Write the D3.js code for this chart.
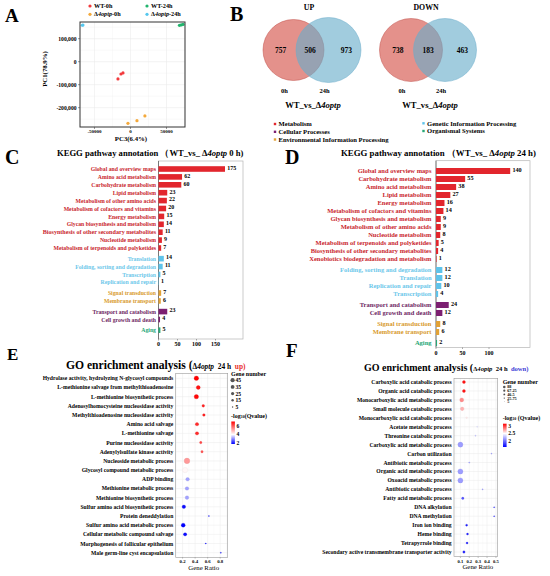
<!DOCTYPE html>
<html>
<head>
<meta charset="utf-8">
<script src="https://cdn.jsdelivr.net/npm/d3@7"></script>
<style>
body { margin: 0; background: #fff; }
svg { display: block; font-family: "Liberation Serif", "Times New Roman", serif; font-weight: bold; }
</style>
</head>
<body>
<div id="chart"></div>
<script>
// ---- A: PCA scores ----
const pcaGroups = ["WT-0h", "WT-24h", "Δ4optp-0h", "Δ4optp-24h"];
const pcaGroup = [0, 0, 0, 1, 1, 1, 2, 2, 2, 3, 3];
const pcaPC3 = [-17400, -13200, -10400, 68000, 70500, 73000, -3500, 9000, 20000, -66800, -66000];
const pcaPC1 = [-75000, -53500, -49000, 158000, 160000, 162000, -268000, -256500, -236000, 158500, 159500];
const pcaXTicks = [-50000, 0, 50000];
const pcaYTicks = [-200000, -100000, 0, 100000];

// ---- B: Venn counts [0h only, both, 24h only] ----
const vennUp = [757, 506, 973];
const vennDown = [738, 183, 463];
const vennSets = ["0h", "24h"];

// ---- C / D: KEGG annotation ----
const keggClassNames = { M: "Metabolism", C: "Cellular Processes", E: "Environmental Information Processing",
                         G: "Genetic Information Processing", O: "Organismal Systems" };
const keggC_terms = ["Global and overview maps", "Amino acid metabolism", "Carbohydrate metabolism", "Lipid metabolism",
  "Metabolism of other amino acids", "Metabolism of cofactors and vitamins", "Energy metabolism",
  "Glycan biosynthesis and metabolism", "Biosynthesis of other secondary metabolites", "Nucleotide metabolism",
  "Metabolism of terpenoids and polyketides", "Translation", "Folding, sorting and degradation", "Transcription",
  "Replication and repair", "Signal transduction", "Membrane transport", "Transport and catabolism",
  "Cell growth and death", "Aging"];
const keggC_counts = [175, 62, 60, 23, 22, 20, 15, 14, 11, 9, 7, 14, 11, 5, 1, 7, 6, 23, 4, 5];
const keggC_class = ["M","M","M","M","M","M","M","M","M","M","M","G","G","G","G","E","E","C","C","O"];

const keggD_terms = ["Global and overview maps", "Carbohydrate metabolism", "Amino acid metabolism", "Lipid metabolism",
  "Energy metabolism", "Metabolism of cofactors and vitamins", "Glycan biosynthesis and metabolism",
  "Metabolism of other amino acids", "Nucleotide metabolism", "Metabolism of terpenoids and polyketides",
  "Biosynthesis of other secondary metabolites", "Xenobiotics biodegradation and metabolism",
  "Folding, sorting and degradation", "Translation", "Replication and repair", "Transcription",
  "Transport and catabolism", "Cell growth and death", "Signal transduction", "Membrane transport", "Aging"];
const keggD_counts = [140, 55, 38, 27, 16, 14, 9, 9, 8, 5, 4, 1, 12, 12, 10, 4, 24, 12, 8, 6, 2];
const keggD_class = ["M","M","M","M","M","M","M","M","M","M","M","M","G","G","G","G","C","C","E","E","O"];
const keggC_ticks = [0, 50, 100, 150];
const keggD_ticks = [0, 50, 100];

// ---- E / F: GO enrichment ----
const goE_terms = ["Hydrolase activity, hydrolyzing N-glycosyl compounds", "L-methionine salvage from methylthioadenosine",
  "L-methionine biosynthetic process", "Adenosylhomocysteine nucleosidase activity",
  "Methylthioadenosine nucleosidase activity", "Amino acid salvage", "L-methionine salvage",
  "Purine nucleosidase activity", "Adenylylsulfate kinase activity", "Nucleoside metabolic process",
  "Glycosyl compound metabolic process", "ADP binding", "Methionine metabolic process",
  "Methionine biosynthetic process", "Sulfur amino acid biosynthetic process", "Protein deneddylation",
  "Sulfur amino acid metabolic process", "Cellular metabolic compound salvage",
  "Morphogenesis of follicular epithelium", "Male germ-line cyst encapsulation"];
const goE_ratio = [0.42, 0.45, 0.42, 0.53, 0.54, 0.43, 0.43, 0.49, 0.51, 0.27, 0.24, 0.28, 0.27, 0.27, 0.22, 0.62, 0.21, 0.24, 0.57, 0.81];
const goE_count = [33, 25, 31, 11, 11, 18, 18, 9, 9, 50, 46, 21, 21, 21, 21, 2, 25, 18, 2, 2];
const goE_q = [7.0, 6.8, 6.9, 6.6, 6.6, 6.5, 6.5, 6.2, 6.0, 5.2, 4.1, 3.2, 3.2, 3.2, 1.9, 1.9, 1.8, 1.9, 1.8, 1.8];
const goE_sizeBreaks = [45, 35, 25, 15, 5];
const goE_qTicks = [6, 4, 2];
const goE_xTicks = [0.2, 0.4, 0.6, 0.8];

const goF_terms = ["Carboxylic acid catabolic process", "Organic acid catabolic process",
  "Monocarboxylic acid metabolic process", "Small molecule catabolic process",
  "Monocarboxylic acid catabolic process", "Acetate metabolic process", "Threonine catabolic process",
  "Carboxylic acid metabolic process", "Carbon utilization", "Antibiotic metabolic process",
  "Organic acid metabolic process", "Oxoacid metabolic process", "Antibiotic catabolic process",
  "Fatty acid metabolic process", "DNA alkylation", "DNA methylation", "Iron ion binding", "Heme binding",
  "Tetrapyrrole binding", "Secondary active transmembrane transporter activity"];
const goF_ratio = [0.14, 0.14, 0.115, 0.12, 0.17, 0.29, 0.27, 0.10, 0.45, 0.20, 0.10, 0.10, 0.35, 0.127, 0.48, 0.48, 0.17, 0.18, 0.175, 0.14];
const goF_count = [30, 30, 53, 43, 9, 5, 5, 84, 4, 5, 88, 86, 5, 19, 4, 4, 13, 13, 13, 19];
const goF_q = [3.1, 3.1, 2.8, 2.7, 2.55, 2.4, 2.3, 2.15, 2.15, 2.15, 2.15, 2.15, 2.15, 1.9, 1.7, 1.7, 1.7, 1.7, 1.7, 1.75];
const goF_sizeBreaks = [88, 67.25, 46.5, 25.75, 5];
const goF_qTicks = [3, 2.5, 2];
const goF_xTicks = [0.1, 0.2, 0.3, 0.4, 0.5];

// ---- styles ----
const pcaColors = ["#f23a3d", "#22b46d", "#f4a93b", "#55c7ee"];
const classFill = { M: "#e2262d", G: "#5fc3ea", E: "#e2a135", C: "#7c1f71", O: "#27a877" };
const classText = { M: "#c9262e", G: "#6cc7ea", E: "#d89a2c", C: "#6e1f63", O: "#23a676" };
const gridColor = "#ebebeb";

const svg = d3.select("#chart").append("svg")
    .attr("width", 550)
    .attr("height", 576);
const defs = svg.append("defs");

function rich(sel, parts) {
    parts.forEach(p => {
        const t = sel.append("tspan").text(p.t);
        if (p.s) t.attr("font-size", p.s);
        if (p.i) t.attr("font-style", "italic");
        if (p.f) t.attr("fill", p.f);
    });
    return sel;
}

function letter(t, x, y, size) {
    svg.append("text").attr("x", x).attr("y", y).attr("font-size", size).text(t);
}

letter("A", 5, 22, 19);
letter("B", 230, 21, 20);
letter("C", 5, 164, 20);
letter("D", 285, 164, 20);
letter("E", 7, 360, 17);
letter("F", 286, 357, 19);

// ================= A: PCA =================
(function drawPCA() {
    const x = d3.scaleLinear().domain([-70100, 75700]).range([80, 185]);
    const y = d3.scaleLinear().domain([-284000, 172600]).range([127, 22]);
    const g = svg.append("g");

    const xMinor = [-75000, -25000, 25000, 75000].filter(v => v > x.domain()[0] && v < x.domain()[1]);
    const yMinor = [-250000, -150000, -50000, 50000, 150000];
    g.selectAll(".gx").data(xMinor.concat(pcaXTicks)).enter().append("line")
        .attr("x1", d => x(d)).attr("x2", d => x(d)).attr("y1", 22).attr("y2", 127)
        .attr("stroke", gridColor).attr("stroke-width", d => pcaXTicks.includes(d) ? 0.6 : 0.3);
    g.selectAll(".gy").data(yMinor.concat(pcaYTicks)).enter().append("line")
        .attr("x1", 80).attr("x2", 185).attr("y1", d => y(d)).attr("y2", d => y(d))
        .attr("stroke", gridColor).attr("stroke-width", d => pcaYTicks.includes(d) ? 0.6 : 0.3);

    g.selectAll(".pt").data(pcaPC3).enter().append("circle")
        .attr("cx", d => x(d))
        .attr("cy", (d, i) => y(pcaPC1[i]))
        .attr("r", 1.6)
        .attr("fill", (d, i) => pcaColors[pcaGroup[i]]);

    g.append("rect").attr("x", 80).attr("y", 22).attr("width", 105).attr("height", 105)
        .attr("fill", "none").attr("stroke", "#333").attr("stroke-width", 1);

    const fmt = v => d3.format(",")(v).replace("−", "-");
    g.selectAll(".yt").data(pcaYTicks).enter().append("text")
        .attr("x", 76.5).attr("y", d => y(d) + 2).attr("text-anchor", "end")
        .attr("font-size", 5.6).text(fmt);
    g.selectAll(".ytk").data(pcaYTicks).enter().append("line")
        .attr("x1", 78).attr("x2", 80).attr("y1", d => y(d)).attr("y2", d => y(d))
        .attr("stroke", "#333").attr("stroke-width", 0.5);
    g.selectAll(".xt").data(pcaXTicks).enter().append("text")
        .attr("x", d => x(d)).attr("y", 133).attr("text-anchor", "middle")
        .attr("font-size", 5).text(d => String(d));
    g.selectAll(".xtk").data(pcaXTicks).enter().append("line")
        .attr("x1", d => x(d)).attr("x2", d => x(d)).attr("y1", 127).attr("y2", 129)
        .attr("stroke", "#333").attr("stroke-width", 0.5);

    g.append("text").attr("transform", "translate(46.5,69) rotate(-90)")
        .attr("text-anchor", "middle").attr("font-size", 6.8).text("PC1(78.9%)");
    g.append("text").attr("x", 131).attr("y", 140.5)
        .attr("text-anchor", "middle").attr("font-size", 6.8).text("PC3(6.4%)");

    // legend
    const pos = [[90, 6], [147, 6], [90, 14.3], [147, 14.3]];
    pcaGroups.forEach((name, i) => {
        const [lx, ly] = pos[i];
        g.append("circle").attr("cx", lx).attr("cy", ly).attr("r", 1.6).attr("fill", pcaColors[i]);
        const t = g.append("text").attr("x", lx + 4).attr("y", ly + 2).attr("font-size", 6.2);
        if (name.startsWith("Δ")) rich(t, [{ t: "Δ" }, { t: "4optp", i: 1 }, { t: name.slice(6) }]);
        else t.text(name);
    });
})();

// ================= B: Venn =================
function drawVenn(title, counts, cx, r1, r2, dx) {
    const g = svg.append("g");
    const red = { x: cx - dx / 2, r: r1 }, blue = { x: cx + dx / 2, r: r2 };
    const cy = 50;
    g.append("circle").attr("cx", red.x).attr("cy", cy).attr("r", red.r)
        .attr("fill", "rgba(210,72,62,0.6)").attr("stroke", "#c0504a").attr("stroke-width", 0.5);
    g.append("circle").attr("cx", blue.x).attr("cy", cy).attr("r", blue.r)
        .attr("fill", "rgba(104,172,202,0.62)").attr("stroke", "#6aaccb").attr("stroke-width", 0.5);
    g.append("text").attr("x", cx - 2).attr("y", 10).attr("text-anchor", "middle")
        .attr("font-size", 7.8).text(title);
    const tx = [red.x - red.r * 0.42, (red.x + red.r + blue.x - blue.r) / 2, blue.x + blue.r * 0.55];
    counts.forEach((c, i) => {
        g.append("text").attr("x", tx[i]).attr("y", cy + 3.3).attr("text-anchor", "middle")
            .attr("font-size", 7.5).text(c);
    });
    g.append("text").attr("x", red.x - 9).attr("y", 92.5).attr("text-anchor", "middle")
        .attr("font-size", 6.5).text(vennSets[0]);
    g.append("text").attr("x", blue.x - 4).attr("y", 92.5).attr("text-anchor", "middle")
        .attr("font-size", 6.5).text(vennSets[1]);
    const t = g.append("text").attr("x", cx + 2).attr("y", 108).attr("text-anchor", "middle").attr("font-size", 8.6);
    rich(t, [{ t: "WT_vs_Δ" }, { t: "4optp", i: 1 }]);
}
drawVenn("UP", vennUp, 311, 30.5, 32.5, 35);
drawVenn("DOWN", vennDown, 428, 31.5, 31.5, 34);

// ================= KEGG legend =================
(function drawKeggLegend() {
    const items = [["M", 275, 124], ["C", 275, 131.8], ["E", 275, 139.5], ["G", 423.5, 123.3], ["O", 423.5, 131]];
    items.forEach(([k, lx, ly]) => {
        svg.append("rect").attr("x", lx - 1.2).attr("y", ly - 1.2).attr("width", 2.4).attr("height", 2.4)
            .attr("fill", classFill[k]);
        svg.append("text").attr("x", lx + 3.5).attr("y", ly + 2.2).attr("font-size", 6.6)
            .text(keggClassNames[k]);
    });
})();

// ================= C / D: KEGG bars =================
function slots(classes, gap) {
    let gi = 0;
    return classes.map((c, i) => { if (i > 0 && c !== classes[i - 1]) gi++; return i + gi * gap; });
}

function drawKegg(opt) {
    const g = svg.append("g");
    const s = slots(opt.classes, opt.gap);
    const y = d3.scaleLinear().domain([0, 1]).range([opt.row0, opt.row0 + opt.step]);
    const x = d3.scaleLinear().domain([0, opt.ticks[1]]).range([opt.left, opt.left + opt.tickPx]);

    g.append("rect").attr("x", opt.left).attr("y", opt.top)
        .attr("width", opt.right - opt.left).attr("height", opt.bottom - opt.top)
        .attr("fill", "none").attr("stroke", "#b5b5b5").attr("stroke-width", 0.7);
    g.append("line").attr("x1", opt.left).attr("x2", opt.left).attr("y1", opt.top).attr("y2", opt.bottom)
        .attr("stroke", "#555").attr("stroke-width", 0.7);

    g.selectAll(".bar").data(opt.counts).enter().append("rect")
        .attr("x", x(0))
        .attr("y", (d, i) => y(s[i]) - opt.barH / 2)
        .attr("width", d => x(d) - x(0))
        .attr("height", opt.barH)
        .attr("fill", (d, i) => classFill[opt.classes[i]]);

    g.selectAll(".val").data(opt.counts).enter().append("text")
        .attr("x", d => x(d) + 2.2)
        .attr("y", (d, i) => y(s[i]) + 0.8)
        .attr("font-size", opt.valSize).text(d => d);

    g.selectAll(".lab").data(opt.terms).enter().append("text")
        .attr("x", opt.labelX)
        .attr("y", (d, i) => y(s[i]) + 2.1)
        .attr("text-anchor", "end")
        .attr("font-size", d => (opt.bigTerm === d ? opt.bigSize : opt.labSize))
        .attr("fill", (d, i) => classText[opt.classes[i]])
        .text(d => d);

    g.selectAll(".tk").data(opt.ticks).enter().append("line")
        .attr("x1", d => x(d)).attr("x2", d => x(d)).attr("y1", opt.bottom).attr("y2", opt.bottom + 1.5)
        .attr("stroke", "#555").attr("stroke-width", 0.5);
    g.selectAll(".tl").data(opt.ticks).enter().append("text")
        .attr("x", d => x(d)).attr("y", opt.bottom + 7)
        .attr("text-anchor", "middle").attr("font-size", 6).text(d => d);

    const t = g.append("text").attr("x", opt.titleX).attr("y", 156).attr("font-size", opt.titleSize);
    rich(t, [{ t: "KEGG pathway annotation " }, { t: "（WT_vs_ Δ" }, { t: "4optp", i: 1 }, { t: opt.titleEnd }]);
}

drawKegg({
    terms: keggC_terms, counts: keggC_counts, classes: keggC_class, ticks: keggC_ticks,
    left: 158.5, right: 243, top: 161, bottom: 339, tickPx: 19,
    row0: 169, step: 7.9, gap: 0.35, barH: 5.6, labelX: 156, labSize: 5.75, bigSize: 6.1, valSize: 6,
    bigTerm: "Biosynthesis of other secondary metabolites", titleX: 57, titleSize: 8.6, titleEnd: " 0 h)"
});
drawKegg({
    terms: keggD_terms, counts: keggD_counts, classes: keggD_class, ticks: keggD_ticks,
    left: 436, right: 530, top: 160.7, bottom: 347.5, tickPx: 26.5,
    row0: 171, step: 8.0, gap: 0.375, barH: 6, labelX: 431.5, labSize: 6.5, bigSize: 6.5, valSize: 6.2,
    bigTerm: null, titleX: 341, titleSize: 8.8, titleEnd: " 24 h)"
});

// ================= E / F: GO bubbles =================
function drawGO(opt) {
    const g = svg.append("g");
    const x = d3.scaleLinear().domain(opt.xDomain).range([opt.left, opt.right]);
    const y = d3.scalePoint().domain(opt.terms).range([opt.row0, opt.rowN]);
    const r = d3.scaleSqrt().domain([0, opt.sizeMax]).range([0, opt.rMax]);
    const col = d3.scaleLinear().domain(opt.qDomain).range(["#0000ff", "#ffffff", "#ff0000"]);

    const xt = opt.xTicks;
    const step = xt[1] - xt[0];
    const minor = xt.map(v => v - step / 2).concat([xt[xt.length - 1] + step / 2])
        .filter(v => v > opt.xDomain[0] && v < opt.xDomain[1]);
    g.selectAll(".gm").data(minor).enter().append("line")
        .attr("x1", d => x(d)).attr("x2", d => x(d)).attr("y1", opt.top).attr("y2", opt.bottom)
        .attr("stroke", "#f3f3f3").attr("stroke-width", 0.3);
    g.selectAll(".gv").data(xt).enter().append("line")
        .attr("x1", d => x(d)).attr("x2", d => x(d)).attr("y1", opt.top).attr("y2", opt.bottom)
        .attr("stroke", gridColor).attr("stroke-width", 0.5);
    g.selectAll(".gh").data(opt.terms).enter().append("line")
        .attr("x1", opt.left).attr("x2", opt.right).attr("y1", d => y(d)).attr("y2", d => y(d))
        .attr("stroke", gridColor).attr("stroke-width", 0.5);

    g.append("rect").attr("x", opt.left).attr("y", opt.top)
        .attr("width", opt.right - opt.left).attr("height", opt.bottom - opt.top)
        .attr("fill", "none").attr("stroke", "#9a9a9a").attr("stroke-width", 0.6);

    g.selectAll(".dot").data(opt.terms).enter().append("circle")
        .attr("cx", (d, i) => x(opt.ratio[i]))
        .attr("cy", d => y(d))
        .attr("r", (d, i) => r(opt.count[i]))
        .attr("fill", (d, i) => col(opt.q[i]))
        .attr("stroke", (d, i) => d3.color(col(opt.q[i])).darker(0.35))
        .attr("stroke-width", 0.25);

    g.selectAll(".lab").data(opt.terms).enter().append("text")
        .attr("x", opt.left - 2.4).attr("y", d => y(d) + 2)
        .attr("text-anchor", "end").attr("font-size", opt.labSize).text(d => d);

    g.selectAll(".tk").data(xt).enter().append("line")
        .attr("x1", d => x(d)).attr("x2", d => x(d)).attr("y1", opt.bottom).attr("y2", opt.bottom + 1.3)
        .attr("stroke", "#666").attr("stroke-width", 0.4);
    g.selectAll(".tl").data(xt).enter().append("text")
        .attr("x", d => x(d)).attr("y", opt.bottom + 5.8)
        .attr("text-anchor", "middle").attr("font-size", opt.tickSize).text(d => d);
    g.append("text").attr("x", (opt.left + opt.right) / 2 + 2).attr("y", opt.bottom + 12.6)
        .attr("text-anchor", "middle").attr("font-size", 6.8).attr("font-weight", "normal").text("Gene Ratio");

    // title
    const t = g.append("text").attr("x", opt.titleX).attr("y", opt.titleY).attr("font-size", opt.titleSize);
    const sm = opt.titleSmall;
    rich(t, [{ t: "GO enrichment analysis " }, { t: "(" }, { t: "Δ", s: sm }, { t: "4optp", s: sm, i: 1 },
             { t: "\u00a0\u00a024 h\u00a0\u00a0", s: sm }, { t: opt.dir + ")", s: sm, f: opt.dirColor }]);

    // size legend
    const lx = opt.legendX;
    g.append("text").attr("x", lx).attr("y", opt.sizeTitleY).attr("font-size", 6).text("Gene number");
    opt.sizeBreaks.forEach((v, i) => {
        const ly = opt.sizeY0 + i * opt.sizeStep;
        g.append("circle").attr("cx", lx + 1.6).attr("cy", ly).attr("r", r(v) * opt.legendScale).attr("fill", "#555");
        g.append("text").attr("x", lx + 4.5).attr("y", ly + opt.sizeText * 0.34).attr("font-size", opt.sizeText).text(v);
    });

    // colour bar
    const cb = d3.scaleLinear().domain([opt.qDomain[0], opt.qDomain[2]]).range([opt.cbBottom, opt.cbTop]);
    const gid = "grad" + opt.dir;
    const grad = defs.append("linearGradient").attr("id", gid)
        .attr("x1", 0).attr("x2", 0).attr("y1", 1).attr("y2", 0);
    opt.qDomain.forEach(v => {
        grad.append("stop")
            .attr("offset", (v - opt.qDomain[0]) / (opt.qDomain[2] - opt.qDomain[0]))
            .attr("stop-color", col(v));
    });
    const lt = g.append("text").attr("x", lx).attr("y", opt.cbTitleY).attr("font-size", 6);
    rich(lt, [{ t: "-log" }, { t: "10", s: 4 }, { t: opt.cbTitleGap + "(Qvalue)" }]);
    g.append("rect").attr("x", lx + 0.3).attr("y", opt.cbTop).attr("width", 3.6)
        .attr("height", opt.cbBottom - opt.cbTop).attr("fill", `url(#${gid})`);
    g.selectAll(".cbt").data(opt.qTicks).enter().append("text")
        .attr("x", lx + 5.5).attr("y", d => cb(d) + 1.9).attr("font-size", 5.6).text(d => d);
}

drawGO({
    terms: goE_terms, ratio: goE_ratio, count: goE_count, q: goE_q, labSize: 5.65,
    xDomain: [0.09, 0.92], xTicks: goE_xTicks, left: 175.7, right: 227.7, top: 373.3, bottom: 557.3,
    row0: 378.3, rowN: 552.7, sizeMax: 50, rMax: 2.8, qDomain: [1.8, 4, 7.0], tickSize: 4.8,
    titleX: 66, titleY: 369, titleSize: 11.6, titleSmall: 7.4, dir: "up", dirColor: "#e8312f",
    legendX: 231, sizeTitleY: 376.3, sizeY0: 380.2, sizeStep: 6.7, sizeBreaks: goE_sizeBreaks, legendScale: 0.8,
    sizeText: 5.6, cbTitleY: 418, cbTitleGap: "", cbTop: 421.5, cbBottom: 444, qTicks: goE_qTicks
});
drawGO({
    terms: goF_terms, ratio: goF_ratio, count: goF_count, q: goF_q, labSize: 5.65,
    xDomain: [0.028, 0.52], xTicks: goF_xTicks, left: 454, right: 497.7, top: 378.3, bottom: 556.7,
    row0: 382, rowN: 552, sizeMax: 90, rMax: 2.6, qDomain: [1.6, 2.5, 3.15], tickSize: 4.6,
    titleX: 364, titleY: 371, titleSize: 10, titleSmall: 6.6, dir: "down", dirColor: "#3b3bd6",
    legendX: 502.7, sizeTitleY: 383.5, sizeY0: 387, sizeStep: 3.7, sizeBreaks: goF_sizeBreaks, legendScale: 0.5,
    sizeText: 4.2, cbTitleY: 420, cbTitleGap: " ", cbTop: 423.7, cbBottom: 447, qTicks: goF_qTicks
});
</script>
</body>
</html>
